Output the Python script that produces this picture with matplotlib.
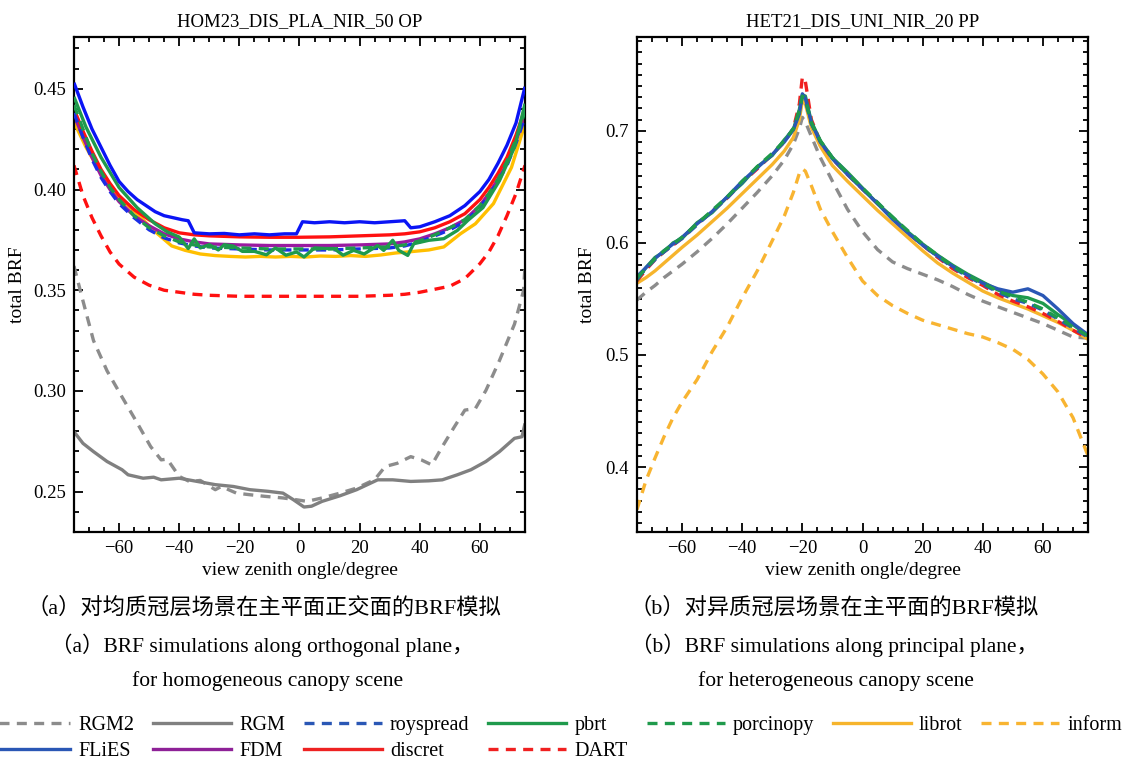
import matplotlib
matplotlib.use("Agg")
import matplotlib.pyplot as plt
from matplotlib.lines import Line2D
from matplotlib.ticker import MultipleLocator, FormatStrFormatter

plt.rcParams["font.family"] = ["Liberation Serif", "Noto Sans CJK SC"]
plt.rcParams["axes.unicode_minus"] = True

# ── data: left panel (HOM23, orthogonal plane) ──────────────
XL = [-75, -72, -69, -66, -63, -60, -55, -50, -45, -40, -35, -30, -20, -10, 0,
      10, 20, 30, 35, 40, 45, 50, 55, 60, 63, 66, 69, 72, 75]
discret_L = [0.440, 0.429, 0.419, 0.410, 0.403, 0.397, 0.390, 0.385, 0.381, 0.3785, 0.3775, 0.377, 0.3765,
             0.3763, 0.3763, 0.3765, 0.377, 0.3775, 0.378, 0.379, 0.381, 0.384, 0.388, 0.395, 0.401, 0.408,
             0.416, 0.427, 0.440]
FDM_L = [0.437, 0.426, 0.416, 0.407, 0.400, 0.394, 0.387, 0.382, 0.378, 0.3755, 0.374, 0.373, 0.3725,
         0.3722, 0.3722, 0.3722, 0.3725, 0.373, 0.374, 0.3755, 0.378, 0.381, 0.385, 0.392, 0.398, 0.405,
         0.413, 0.424, 0.437]
royspread_L = [0.438, 0.426, 0.415, 0.406, 0.399, 0.393, 0.386, 0.380, 0.376, 0.3735, 0.372, 0.371, 0.3705,
               0.370, 0.370, 0.370, 0.3705, 0.371, 0.372, 0.374, 0.377, 0.380, 0.384, 0.391, 0.397, 0.404,
               0.412, 0.423, 0.436]
porcinopy_L = [0.442, 0.430, 0.418, 0.409, 0.401, 0.395, 0.387, 0.381, 0.377, 0.374, 0.3725, 0.3715, 0.371,
               0.3705, 0.3705, 0.3705, 0.371, 0.3715, 0.3725, 0.3745, 0.3775, 0.381, 0.385, 0.392, 0.398,
               0.405, 0.414, 0.425, 0.439]
DART_L = [0.412, 0.397, 0.386, 0.377, 0.369, 0.363, 0.3565, 0.3525, 0.350, 0.349, 0.348, 0.3475, 0.347,
          0.347, 0.347, 0.347, 0.347, 0.3475, 0.348, 0.349, 0.3505, 0.352, 0.3558, 0.3632, 0.369, 0.377,
          0.387, 0.398, 0.412]

FLiES_Lx = [-75, -72, -69, -66, -63, -60, -57, -54, -51, -48, -45, -42, -39, -37, -35, -30, -25, -20, -15,
            -10, -5, -1, 1, 5, 10, 15, 20, 25, 30, 35, 37, 40, 45, 50, 55, 60, 63, 66, 69, 72, 75]
FLiES_L = [0.453, 0.441, 0.430, 0.421, 0.412, 0.404, 0.399, 0.395, 0.392, 0.389, 0.387, 0.386, 0.385,
           0.3845, 0.3785, 0.378, 0.3782, 0.3775, 0.378, 0.3775, 0.378, 0.378, 0.384, 0.3835, 0.384,
           0.3835, 0.384, 0.3835, 0.384, 0.3845, 0.381, 0.3815, 0.384, 0.387, 0.392, 0.399, 0.405, 0.413,
           0.422, 0.433, 0.451]

pbrt_Lx = [-75, -71, -66, -60, -54, -48, -44, -40, -37, -35, -33, -30, -27, -25, -22, -19, -15, -11, -8,
           -4.5, -1, 1.5, 5, 8.5, 11.5, 14.5, 18, 21.5, 26, 28, 31, 33, 36, 38, 43, 48, 52.5, 56, 61, 66.5,
           71.5, 75]
pbrt_L = [0.446, 0.431, 0.416, 0.401, 0.391, 0.383, 0.379, 0.3764, 0.3707, 0.3755, 0.371, 0.3726, 0.370,
          0.3726, 0.3719, 0.3693, 0.3693, 0.3676, 0.371, 0.3674, 0.369, 0.3665, 0.371, 0.3707, 0.3707,
          0.3674, 0.3698, 0.368, 0.3722, 0.3698, 0.3748, 0.3698, 0.3673, 0.3731, 0.3748, 0.3756, 0.3797,
          0.3847, 0.391, 0.4044, 0.421, 0.4426]

librot_Lx = [-75, -71, -66, -60, -54, -48.5, -42.5, -38, -33, -28, -23, -18, -13, -8, -3, 2, 7, 12, 17,
             22, 27, 32, 36, 43, 48, 53.5, 58.5, 64.5, 70.5, 75]
librot_L = [0.4335, 0.421, 0.408, 0.396, 0.388, 0.3797, 0.372, 0.3698, 0.368, 0.3672, 0.3668, 0.3665,
            0.3668, 0.3665, 0.3668, 0.3665, 0.367, 0.3668, 0.3672, 0.3668, 0.3675, 0.3685, 0.369, 0.370,
            0.3715, 0.378, 0.383, 0.393, 0.411, 0.4326]

RGM2_Lx = [-75, -72, -68.5, -64, -59, -54.5, -49.5, -46, -44, -40, -36.5, -33, -28, -26, -21, -16.5,
           -11.5, -5.5, -1, 2.5, 7.5, 13.5, 19, 25, 28.5, 32.5, 37, 40.5, 44, 47.5, 51.5, 55, 58.5, 62,
           66.5, 71.5, 74.5, 75]
RGM2_L = [0.362, 0.3447, 0.325, 0.310, 0.297, 0.2855, 0.2724, 0.2658, 0.2662, 0.2576, 0.255, 0.2556,
          0.251, 0.2526, 0.2493, 0.2485, 0.2477, 0.2469, 0.246, 0.2452, 0.2469, 0.2493, 0.2518, 0.256,
          0.2625, 0.2641, 0.2674, 0.2658, 0.2633, 0.2724, 0.2822, 0.2905, 0.2913, 0.3003, 0.3151,
          0.3332, 0.3497, 0.362]

RGM_Lx = [-75, -72, -68.5, -64, -59, -57, -52, -48.5, -46, -40, -34, -28, -22, -16.5, -10.5, -5.5, -2,
          1.5, 4, 7.5, 13.5, 19, 26, 31, 37, 43, 47.5, 52.5, 57, 62, 66.5, 71.5, 74, 75]
RGM_L = [0.2798, 0.274, 0.2699, 0.265, 0.2609, 0.2584, 0.2567, 0.2572, 0.2559, 0.2567, 0.2551, 0.2535,
         0.2526, 0.251, 0.2502, 0.2493, 0.246, 0.2424, 0.2428, 0.2452, 0.248, 0.251, 0.2559, 0.2559,
         0.2551, 0.2554, 0.2559, 0.2584, 0.2609, 0.265, 0.2699, 0.2765, 0.2773, 0.2839]

# ── data: right panel (HET21, principal plane) ──────────────
XR = [-75, -72, -69, -66, -63, -60, -55, -50, -45, -40, -35, -30, -26, -23, -21, -20, -19, -17, -14, -10,
      -5, 0, 5, 10, 15, 20, 25, 30, 35, 40, 45, 50, 55, 60, 65, 70, 75]
FLiES_R = [0.570, 0.578, 0.586, 0.593, 0.599, 0.605, 0.617, 0.628, 0.641, 0.655, 0.667, 0.679, 0.690,
           0.701, 0.715, 0.733, 0.729, 0.707, 0.690, 0.675, 0.661, 0.648, 0.635, 0.621, 0.609, 0.598,
           0.588, 0.579, 0.571, 0.564, 0.559, 0.556, 0.559, 0.553, 0.541, 0.528, 0.518]
royspread_R = [0.568, 0.577, 0.585, 0.592, 0.598, 0.604, 0.616, 0.628, 0.640, 0.654, 0.667, 0.679, 0.691,
               0.702, 0.717, 0.731, 0.727, 0.706, 0.690, 0.676, 0.662, 0.648, 0.636, 0.622, 0.610,
               0.598, 0.588, 0.578, 0.570, 0.563, 0.556, 0.550, 0.546, 0.540, 0.532, 0.524, 0.516]
pbrt_R = [0.567, 0.578, 0.587, 0.592, 0.600, 0.604, 0.618, 0.627, 0.641, 0.653, 0.668, 0.678, 0.692,
          0.701, 0.719, 0.732, 0.731, 0.708, 0.691, 0.676, 0.663, 0.649, 0.635, 0.623, 0.610, 0.599,
          0.589, 0.580, 0.572, 0.565, 0.558, 0.553, 0.551, 0.546, 0.536, 0.527, 0.517]
porcinopy_R = [0.569, 0.577, 0.586, 0.593, 0.599, 0.605, 0.617, 0.629, 0.641, 0.655, 0.668, 0.680, 0.691,
               0.702, 0.718, 0.731, 0.728, 0.707, 0.691, 0.676, 0.662, 0.649, 0.636, 0.623, 0.611,
               0.599, 0.589, 0.579, 0.571, 0.564, 0.557, 0.552, 0.547, 0.541, 0.533, 0.525, 0.517]
DART_R = [0.566, 0.576, 0.585, 0.592, 0.598, 0.604, 0.617, 0.628, 0.640, 0.654, 0.666, 0.679, 0.690,
          0.702, 0.724, 0.748, 0.744, 0.710, 0.690, 0.675, 0.661, 0.648, 0.635, 0.622, 0.609, 0.598,
          0.587, 0.577, 0.569, 0.562, 0.554, 0.548, 0.543, 0.537, 0.530, 0.522, 0.515]
librot_R = [0.564, 0.569, 0.575, 0.582, 0.589, 0.596, 0.607, 0.619, 0.631, 0.644, 0.657, 0.670, 0.682,
            0.694, 0.710, 0.727, 0.724, 0.703, 0.686, 0.669, 0.655, 0.642, 0.629, 0.617, 0.605, 0.593,
            0.582, 0.573, 0.565, 0.557, 0.551, 0.546, 0.541, 0.535, 0.529, 0.522, 0.514]
RGM2_R = [0.549, 0.556, 0.562, 0.569, 0.575, 0.581, 0.592, 0.604, 0.617, 0.631, 0.645, 0.660, 0.674,
          0.688, 0.702, 0.712, 0.708, 0.695, 0.676, 0.655, 0.630, 0.610, 0.594, 0.583, 0.577, 0.572,
          0.567, 0.561, 0.554, 0.548, 0.543, 0.538, 0.533, 0.528, 0.522, 0.516, 0.515]
inform_R = [0.362, 0.388, 0.408, 0.427, 0.444, 0.458, 0.478, 0.503, 0.525, 0.551, 0.575, 0.602, 0.624,
            0.645, 0.662, 0.666, 0.664, 0.651, 0.630, 0.610, 0.587, 0.566, 0.553, 0.544, 0.537, 0.531,
            0.527, 0.523, 0.519, 0.516, 0.511, 0.505, 0.496, 0.483, 0.467, 0.444, 0.410]

# legend order (column-major in a 7-column legend)
LEGEND_ORDER = ["RGM2", "FLiES", "RGM", "FDM", "royspread", "discret", "pbrt", "DART",
                "porcinopy", "librot", "inform"]
COLORS = {"RGM2": "#8c8c8c", "RGM": "#808080", "royspread": "#2a57b5", "pbrt": "#1f9a4c",
          "porcinopy": "#1f9a4c", "librot": "#f6b42c", "inform": "#f8b431", "FLiES": "#2a57b5",
          "FDM": "#8e2197", "discret": "#ee2222", "DART": "#f02020"}
DASHED = {"RGM2", "royspread", "porcinopy", "inform", "DART"}
LW = 2.4
DASH = (3.0, 2.2)


def draw(ax, x, y, name, color=None, z=2):
    kw = dict(color=color or COLORS[name], lw=LW, zorder=z, solid_capstyle="butt")
    if name in DASHED:
        ax.plot(x, y, linestyle=(0, DASH), **kw)
    else:
        ax.plot(x, y, **kw)


fig = plt.figure(figsize=(11.24, 7.6), dpi=100)
axL = fig.add_axes([0.0658, 0.3, 0.4013, 0.6513])
axR = fig.add_axes([0.5667, 0.3, 0.4013, 0.6513])

# left panel: original figure uses saturated blues here
draw(axL, RGM2_Lx, RGM2_L, "RGM2")
draw(axL, RGM_Lx, RGM_L, "RGM")
draw(axL, XL, DART_L, "DART", color="#ff1010")
draw(axL, librot_Lx, librot_L, "librot", color="#ffbf00")
draw(axL, XL, FDM_L, "FDM", color="#9a1aa0")
draw(axL, XL, discret_L, "discret", color="#ff1010")
draw(axL, XL, royspread_L, "royspread", color="#1a2ee6", z=3)
draw(axL, XL, porcinopy_L, "porcinopy", z=3)
draw(axL, pbrt_Lx, pbrt_L, "pbrt", z=4)
draw(axL, FLiES_Lx, FLiES_L, "FLiES", color="#0a14f5", z=4)

draw(axR, XR, inform_R, "inform")
draw(axR, XR, RGM2_R, "RGM2")
draw(axR, XR, librot_R, "librot")
draw(axR, XR, DART_R, "DART")
draw(axR, XR, pbrt_R, "pbrt")
draw(axR, XR, FLiES_R, "FLiES")
draw(axR, XR, royspread_R, "royspread")
draw(axR, XR, porcinopy_R, "porcinopy")

for ax, title, ylim, ymaj, fmt, ycoord in [
        (axL, "HOM23_DIS_PLA_NIR_50 OP", (0.23, 0.4757), 0.05, "%.2f", -0.106),
        (axR, "HET21_DIS_UNI_NIR_20 PP", (0.342, 0.7837), 0.1, "%.1f", -0.090)]:
    ax.set_xlim(-75, 75)
    ax.set_ylim(*ylim)
    ax.xaxis.set_major_locator(MultipleLocator(20))
    ax.xaxis.set_minor_locator(MultipleLocator(5))
    ax.yaxis.set_major_locator(MultipleLocator(ymaj))
    ax.yaxis.set_minor_locator(MultipleLocator(0.01))
    ax.yaxis.set_major_formatter(FormatStrFormatter(fmt))
    ax.tick_params(which="both", direction="in", top=True, right=True, width=1.3,
                   labelsize=13.5, pad=6)
    ax.tick_params(which="major", length=6.5)
    ax.tick_params(which="minor", length=3.5)
    for s in ax.spines.values():
        s.set_linewidth(1.6)
    ax.set_title(title, fontsize=13.5, pad=8)
    ax.set_xlabel("view zenith ongle/degree", fontsize=14, labelpad=3.5)
    ax.set_ylabel("total BRF", fontsize=14)
    ax.yaxis.set_label_coords(ycoord, 0.5)

# captions
cap_kw = dict(ha="center", va="center")
fig.text(0.235, 1 - 608 / 760, "（a）对均质冠层场景在主平面正交面的BRF模拟", fontsize=16, **cap_kw)
fig.text(0.233, 1 - 645 / 760, "（a）BRF simulations along orthogonal plane，", fontsize=15.5, **cap_kw)
fig.text(0.238, 1 - 681 / 760, "for homogeneous canopy scene", fontsize=15.5, **cap_kw)
fig.text(0.742, 1 - 608 / 760, "（b）对异质冠层场景在主平面的BRF模拟", fontsize=16, **cap_kw)
fig.text(0.742, 1 - 645 / 760, "（b）BRF simulations along principal plane，", fontsize=15.5, **cap_kw)
fig.text(0.744, 1 - 681 / 760, "for heterogeneous canopy scene", fontsize=15.5, **cap_kw)

handles = []
for name in LEGEND_ORDER:
    ls = (0, DASH) if name in DASHED else "-"
    handles.append(Line2D([], [], color=COLORS[name], lw=LW, linestyle=ls))
fig.legend(handles, LEGEND_ORDER, loc="upper left", bbox_to_anchor=(-0.007, 0.058), ncol=7,
           frameon=False, fontsize=14.5, handlelength=3.87, handletextpad=0.4, columnspacing=0.94,
           labelspacing=0.32, borderaxespad=0, borderpad=0)

fig.savefig("out.png", dpi=100)
